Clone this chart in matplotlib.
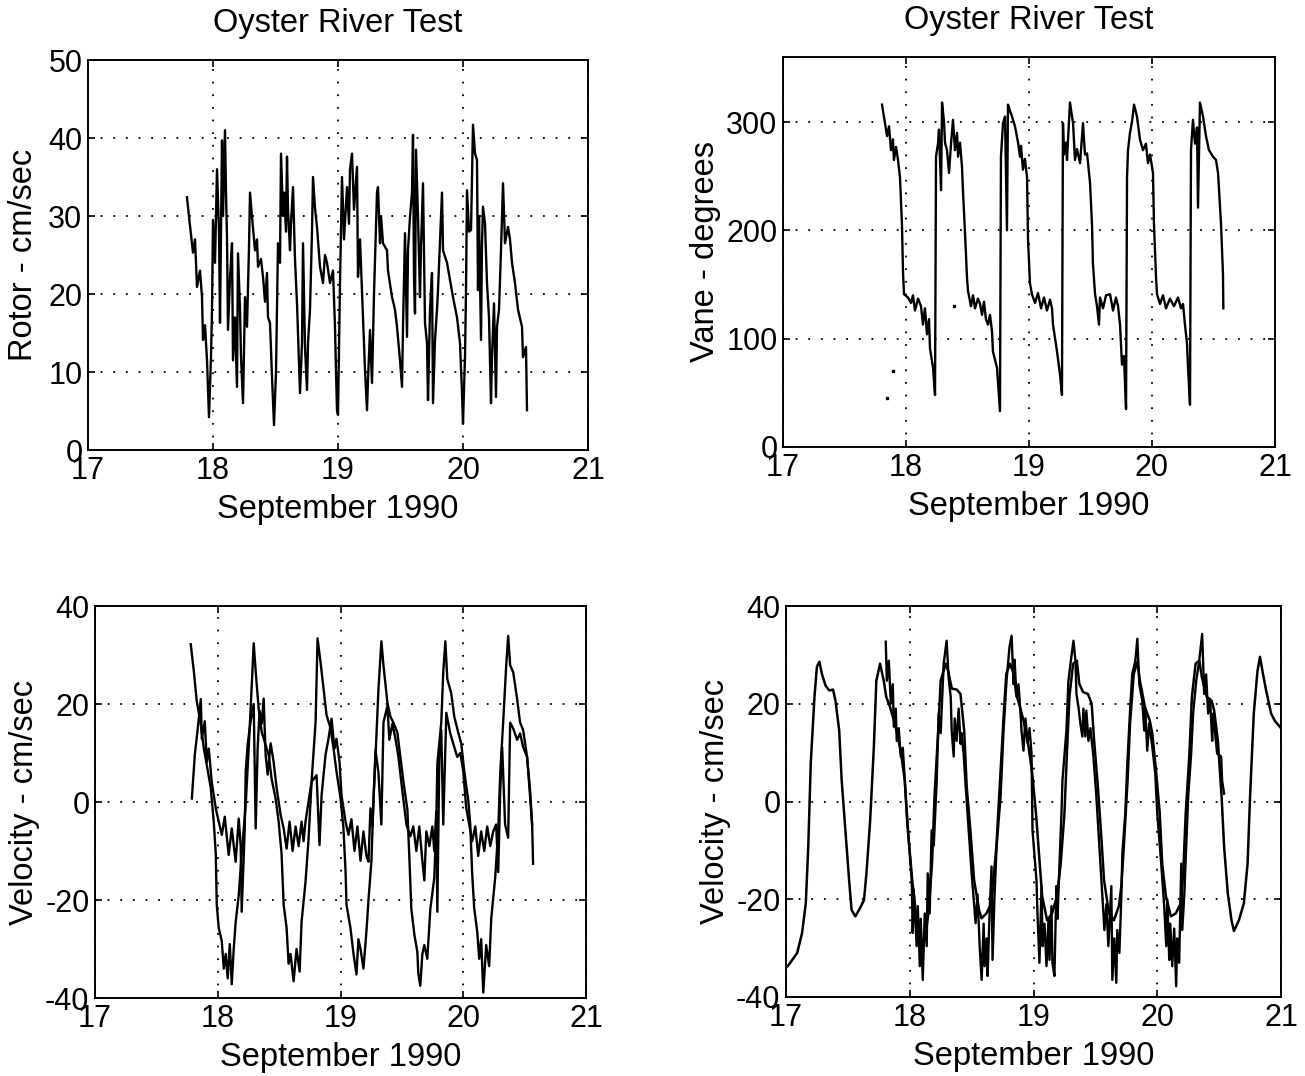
import matplotlib
matplotlib.use("Agg")
import matplotlib.pyplot as plt

plt.rcParams['font.family'] = ['Liberation Sans', 'DejaVu Sans']
plt.rcParams['axes.unicode_minus'] = False

# ---------------- data ----------------
x_ticks = [17, 18, 19, 20, 21]
title_text = "Oyster River Test"
xlabel_text = "September 1990"

# Top-left: rotor speed (cm/sec)
rotor_t = [17.792, 17.808, 17.84, 17.856, 17.872, 17.896, 17.912, 17.92, 17.936, 17.952, 17.968, 17.984,
           17.992, 18.0, 18.016, 18.032, 18.048, 18.056, 18.072, 18.08, 18.096, 18.104, 18.112, 18.12,
           18.136, 18.152, 18.16, 18.176, 18.192, 18.2, 18.216, 18.224, 18.24, 18.256, 18.272, 18.288,
           18.296, 18.312, 18.336, 18.352, 18.36, 18.384, 18.4, 18.416, 18.432, 18.44, 18.456, 18.472,
           18.488, 18.504, 18.512, 18.52, 18.536, 18.544, 18.56, 18.568, 18.584, 18.592, 18.6, 18.616,
           18.624, 18.64, 18.656, 18.672, 18.68, 18.696, 18.712, 18.72, 18.736, 18.752, 18.76, 18.776,
           18.792, 18.8, 18.816, 18.832, 18.856, 18.88, 18.896, 18.912, 18.936, 18.96, 18.976, 18.984,
           18.992, 19.0, 19.016, 19.032, 19.048, 19.072, 19.088, 19.096, 19.112, 19.128, 19.152, 19.16,
           19.176, 19.2, 19.216, 19.232, 19.24, 19.256, 19.272, 19.288, 19.312, 19.32, 19.336, 19.344,
           19.36, 19.392, 19.4, 19.432, 19.456, 19.472, 19.496, 19.512, 19.52, 19.536, 19.552, 19.56,
           19.576, 19.592, 19.6, 19.608, 19.616, 19.624, 19.64, 19.656, 19.664, 19.68, 19.696, 19.712,
           19.72, 19.736, 19.752, 19.76, 19.776, 19.792, 19.8, 19.832, 19.84, 19.872, 19.896, 19.92,
           19.952, 19.976, 19.992, 20.0, 20.016, 20.024, 20.032, 20.048, 20.064, 20.08, 20.096, 20.112,
           20.12, 20.128, 20.144, 20.152, 20.16, 20.176, 20.192, 20.208, 20.224, 20.232, 20.248, 20.264,
           20.272, 20.288, 20.304, 20.32, 20.336, 20.36, 20.376, 20.392, 20.416, 20.44, 20.472, 20.48,
           20.504, 20.512]
rotor_v = [32.4, 29.9, 25.3, 27.0, 20.9, 23.0, 19.6, 14.1, 16.0, 11.5, 4.2, 12.0,
           18.0, 29.5, 24.0, 36.0, 28.0, 16.3, 39.7, 30.0, 41.0, 33.0, 27.3, 15.4,
           22.0, 26.5, 11.5, 17.0, 8.1, 25.2, 18.0, 12.0, 6.0, 19.6, 15.8, 26.0,
           33.0, 29.9, 25.6, 27.0, 23.5, 24.5, 22.2, 19.0, 22.7, 17.0, 16.3, 9.4,
           3.2, 10.0, 18.0, 26.5, 24.0, 38.0, 30.0, 33.0, 28.0, 37.6, 30.8, 25.6,
           29.0, 33.7, 24.4, 18.8, 15.0, 7.3, 13.7, 26.5, 13.2, 7.7, 13.7, 18.0,
           28.0, 35.0, 31.0, 28.6, 23.5, 21.4, 25.0, 24.0, 21.4, 23.0, 15.8, 10.0,
           5.1, 4.5, 21.4, 35.0, 27.0, 33.7, 29.0, 36.0, 38.0, 30.8, 36.3, 22.2,
           27.0, 17.0, 10.3, 5.1, 9.0, 15.4, 8.6, 20.0, 33.0, 33.7, 26.5, 30.0,
           26.5, 25.6, 23.0, 19.6, 18.0, 15.8, 11.5, 8.1, 15.8, 27.8, 14.5, 25.6,
           29.9, 33.0, 40.4, 22.2, 17.5, 38.5, 29.9, 19.6, 26.0, 34.2, 16.3, 13.7,
           6.4, 18.0, 22.7, 6.0, 14.1, 18.0, 20.5, 33.0, 25.6, 24.0, 21.8, 19.6,
           17.0, 13.7, 7.3, 3.4, 12.0, 20.5, 33.3, 28.0, 28.2, 41.7, 38.0, 37.2,
           20.5, 30.0, 14.1, 26.5, 31.2, 29.0, 21.4, 17.0, 6.0, 12.0, 18.8, 6.8,
           15.8, 18.0, 25.6, 34.2, 26.5, 28.6, 27.0, 24.0, 21.4, 18.0, 15.8, 11.9,
           13.2, 5.1]
rotor_yticks = [0, 10, 20, 30, 40, 50]

# Top-right: vane direction (degrees)
vane_t = [17.805, 17.846, 17.862, 17.878, 17.894, 17.902, 17.919, 17.935, 17.951, 17.967, 17.976, 17.984,
          18.016, 18.041, 18.057, 18.073, 18.098, 18.122, 18.138, 18.154, 18.171, 18.187, 18.195, 18.22,
          18.236, 18.244, 18.26, 18.268, 18.285, 18.293, 18.309, 18.317, 18.333, 18.35, 18.366, 18.382,
          18.398, 18.415, 18.423, 18.439, 18.455, 18.463, 18.48, 18.496, 18.504, 18.528, 18.545, 18.561,
          18.585, 18.602, 18.618, 18.634, 18.65, 18.667, 18.683, 18.699, 18.707, 18.74, 18.748, 18.764,
          18.772, 18.789, 18.805, 18.821, 18.829, 18.846, 18.862, 18.886, 18.911, 18.927, 18.935, 18.951,
          18.967, 18.984, 18.992, 19.008, 19.024, 19.049, 19.073, 19.098, 19.122, 19.146, 19.171, 19.187,
          19.195, 19.228, 19.252, 19.268, 19.276, 19.285, 19.301, 19.309, 19.325, 19.333, 19.358, 19.374,
          19.39, 19.415, 19.439, 19.455, 19.472, 19.496, 19.512, 19.52, 19.537, 19.553, 19.569, 19.577,
          19.602, 19.626, 19.659, 19.683, 19.707, 19.724, 19.74, 19.756, 19.772, 19.789, 19.797, 19.805,
          19.821, 19.837, 19.854, 19.878, 19.902, 19.927, 19.951, 19.967, 19.984, 20.008, 20.016, 20.033,
          20.041, 20.065, 20.089, 20.114, 20.146, 20.179, 20.211, 20.236, 20.252, 20.268, 20.285, 20.293,
          20.309, 20.317, 20.333, 20.35, 20.366, 20.374, 20.39, 20.415, 20.439, 20.463, 20.496, 20.52,
          20.537, 20.545, 20.561, 20.577, 20.58]
vane_v = [316, 287, 296, 274, 284, 265, 277, 265, 249, 206, 160, 141,
          138, 133, 140, 126, 137, 130, 113, 128, 104, 118, 91, 73,
          48, 268, 280, 293, 237, 318, 300, 281, 274, 253, 280, 302,
          274, 290, 268, 281, 259, 237, 197, 156, 144, 130, 140, 128,
          137, 132, 122, 134, 118, 113, 122, 107, 88, 73, 60, 33,
          268, 299, 305, 200, 316, 310, 305, 296, 281, 268, 278, 256,
          266, 249, 191, 151, 141, 133, 142, 128, 138, 126, 136, 128,
          113, 88, 67, 48, 299, 270, 281, 265, 300, 318, 299, 265,
          275, 262, 299, 270, 271, 244, 206, 169, 141, 130, 113, 138,
          128, 140, 141, 126, 138, 130, 113, 76, 84, 35, 249, 274,
          290, 300, 316, 305, 284, 274, 280, 262, 270, 253, 206, 156,
          141, 132, 140, 128, 137, 130, 138, 128, 132, 113, 95, 73,
          39, 274, 302, 280, 295, 221, 318, 305, 287, 274, 268, 265,
          253, 237, 206, 160, 128]
vane_outlier_t = [17.846, 17.894, 18.39]
vane_outlier_v = [45, 70, 130]
vane_yticks = [0, 100, 200, 300]

# Bottom-left: two velocity components (cm/sec)
vel_a_t = [17.78, 17.805, 17.829, 17.862, 17.886, 17.911, 17.943, 17.967, 17.984, 17.992, 18.008, 18.033,
           18.049, 18.065, 18.081, 18.098, 18.114, 18.13, 18.146, 18.171, 18.195, 18.228, 18.252, 18.276,
           18.293, 18.309, 18.333, 18.358, 18.39, 18.415, 18.439, 18.472, 18.496, 18.52, 18.537, 18.561,
           18.577, 18.593, 18.618, 18.642, 18.667, 18.683, 18.715, 18.74, 18.764, 18.797, 18.813, 18.837,
           18.862, 18.886, 18.919, 18.943, 18.967, 19.0, 19.024, 19.041, 19.049, 19.081, 19.106, 19.13,
           19.146, 19.163, 19.187, 19.211, 19.228, 19.252, 19.268, 19.285, 19.309, 19.333, 19.35, 19.382,
           19.407, 19.431, 19.463, 19.488, 19.512, 19.545, 19.561, 19.577, 19.602, 19.626, 19.634, 19.65,
           19.667, 19.683, 19.707, 19.732, 19.764, 19.78, 19.789, 19.821, 19.837, 19.854, 19.87, 19.902,
           19.927, 19.959, 19.984, 20.008, 20.041, 20.057, 20.073, 20.089, 20.114, 20.13, 20.146, 20.163,
           20.187, 20.211, 20.228, 20.26, 20.285, 20.301, 20.325, 20.35, 20.366, 20.382, 20.407, 20.439,
           20.463, 20.488, 20.52, 20.537, 20.561, 20.569]
vel_a_v = [32.2, 26.7, 20.6, 15.9, 11.0, 7.5, 2.9, -3.9, -10.6, -21.0, -25.7, -28.4,
           -34.0, -31.0, -36.0, -29.0, -37.2, -30.0, -24.5, -19.0, -10.6, -0.5, 11.0, 23.3,
           32.4, 26.7, 19.1, 14.3, 11.6, 9.6, 4.7, 0.6, -4.0, -10.6, -21.0, -25.7,
           -33.0, -31.0, -36.6, -30.0, -34.6, -24.4, -16.3, -7.5, 4.1, 16.3, 33.4, 28.6,
           23.1, 17.8, 15.0, 11.0, 6.3, 0.8, -5.3, -14.1, -21.0, -25.7, -31.0, -35.2,
           -28.0, -30.0, -34.0, -26.5, -20.0, -12.0, 0.0, 9.2, 22.9, 32.8, 27.9, 20.3,
           17.4, 16.2, 14.2, 9.2, 4.3, -1.6, -11.4, -21.8, -27.1, -30.6, -35.0, -37.5,
           -31.0, -29.2, -32.0, -21.8, -15.5, -4.6, 7.8, 16.2, 26.5, 32.8, 25.1, 22.2,
           17.4, 14.2, 11.9, 6.3, 0.3, -4.6, -14.7, -21.6, -26.5, -32.0, -28.0, -38.9,
           -29.2, -33.5, -23.8, -15.5, -5.9, 5.8, 16.2, 27.9, 33.9, 27.9, 26.5, 21.0,
           16.2, 14.7, 9.2, 3.7, -4.6, -12.6]
vel_b_t = [17.789, 17.813, 17.837, 17.862, 17.87, 17.894, 17.911, 17.927, 17.951, 17.984, 18.008, 18.033,
           18.057, 18.089, 18.114, 18.146, 18.171, 18.187, 18.195, 18.22, 18.228, 18.244, 18.268, 18.293,
           18.309, 18.325, 18.341, 18.358, 18.374, 18.39, 18.407, 18.431, 18.455, 18.48, 18.512, 18.537,
           18.561, 18.585, 18.61, 18.634, 18.659, 18.683, 18.699, 18.715, 18.764, 18.805, 18.829, 18.846,
           18.878, 18.902, 18.927, 18.951, 18.967, 18.992, 19.008, 19.041, 19.065, 19.089, 19.114, 19.138,
           19.163, 19.187, 19.211, 19.228, 19.244, 19.26, 19.285, 19.309, 19.333, 19.35, 19.382, 19.398,
           19.423, 19.447, 19.472, 19.504, 19.537, 19.569, 19.593, 19.618, 19.642, 19.667, 19.683, 19.699,
           19.724, 19.748, 19.764, 19.78, 19.789, 19.805, 19.821, 19.837, 19.862, 19.894, 19.927, 19.951,
           19.976, 20.0, 20.024, 20.049, 20.073, 20.098, 20.122, 20.146, 20.171, 20.195, 20.22, 20.244,
           20.268, 20.285, 20.301, 20.317, 20.341, 20.366, 20.382, 20.407, 20.439, 20.463, 20.488, 20.52,
           20.545, 20.561]
vel_b_v = [0.7, 9.6, 15.0, 21.0, 12.9, 16.5, 8.2, 10.9, 4.1, -1.3, -4.0, -6.7,
           -3.0, -10.8, -5.4, -12.2, -3.4, -9.0, -22.4, -5.4, 6.3, 11.8, 16.5, 20.0,
           -5.4, 11.0, 18.6, 16.0, 21.1, 9.6, 5.6, 12.0, 8.2, 2.8, -2.6, -5.4,
           -9.5, -4.0, -10.0, -5.0, -9.0, -4.0, -8.0, -4.0, 4.1, 5.5, -8.8, 1.4,
           9.6, 12.9, 17.0, 10.9, 12.9, 8.2, 1.4, -4.0, -6.7, -3.5, -10.0, -5.0,
           -12.0, -6.0, -11.0, -12.2, -1.3, -5.0, 10.6, 6.0, -4.6, 16.2, 19.6, 12.7,
           16.0, 13.0, 9.2, 2.2, -4.6, -7.0, -5.0, -10.0, -5.0, -12.0, -16.0, -6.0,
           -9.0, -5.0, -10.0, -1.9, -22.4, 9.2, 14.7, -4.6, 18.2, 14.0, 11.2, 9.2,
           10.0, 6.3, -1.2, -4.6, -8.0, -5.0, -11.0, -6.0, -10.0, -5.0, -9.0, -6.0,
           -4.6, -14.3, 2.2, 11.2, -4.6, -7.3, 16.2, 15.0, 12.7, 14.0, 11.2, 9.2,
           2.2, -4.6]
vel_yticks = [-40, -20, 0, 20, 40]

# Bottom-right: model (smooth) and measured (noisy) velocity (cm/sec)
model_t = [17.0, 17.02, 17.09, 17.13, 17.16, 17.18, 17.2, 17.23, 17.25, 17.27, 17.29, 17.32,
           17.35, 17.38, 17.4, 17.43, 17.45, 17.48, 17.51, 17.53, 17.56, 17.59, 17.63, 17.65,
           17.68, 17.71, 17.73, 17.76, 17.79, 17.81, 17.84, 17.88, 17.91, 17.93, 17.96, 17.98,
           18.02, 18.05, 18.07, 18.1, 18.13, 18.15, 18.18, 18.2, 18.23, 18.25, 18.29, 18.31,
           18.34, 18.38, 18.41, 18.44, 18.46, 18.49, 18.52, 18.56, 18.58, 18.62, 18.66, 18.7,
           18.73, 18.76, 18.78, 18.81, 18.84, 18.86, 18.89, 18.92, 18.96, 18.99, 19.02, 19.05,
           19.07, 19.11, 19.15, 19.19, 19.22, 19.25, 19.27, 19.29, 19.32, 19.35, 19.37, 19.4,
           19.44, 19.47, 19.49, 19.52, 19.55, 19.57, 19.61, 19.65, 19.69, 19.71, 19.73, 19.76,
           19.78, 19.81, 19.84, 19.86, 19.9, 19.94, 19.96, 19.99, 20.02, 20.04, 20.07, 20.11,
           20.15, 20.19, 20.21, 20.23, 20.26, 20.28, 20.31, 20.34, 20.36, 20.4, 20.44, 20.46,
           20.49, 20.52, 20.54, 20.57, 20.6, 20.62, 20.66, 20.7, 20.73, 20.75, 20.78, 20.81,
           20.83, 20.85, 20.88, 20.92, 20.95, 21.0]
model_v = [-34.0, -33.5, -31.0, -26.9, -20.8, -9.2, 7.8, 21.4, 27.6, 28.6, 26.1, 23.7,
           22.7, 22.9, 20.6, 14.5, 4.3, -5.9, -16.1, -22.2, -23.5, -22.2, -20.2, -14.7,
           -3.9, 11.2, 24.7, 28.2, 24.7, 21.4, 19.4, 15.9, 12.4, 9.8, 4.3, -4.5,
           -16.1, -22.9, -26.9, -29.0, -26.9, -22.9, -12.7, 1.0, 14.5, 24.7, 28.2, 26.7,
           23.1, 22.9, 22.0, 14.5, 3.1, -5.9, -16.1, -22.2, -23.9, -22.9, -20.8, -9.2,
           4.3, 18.0, 26.1, 28.2, 26.1, 22.0, 19.4, 16.5, 11.2, 5.7, -2.4, -12.7,
           -19.4, -24.3, -22.9, -19.4, -12.7, -2.4, 9.8, 21.4, 28.2, 28.8, 24.1, 22.4,
           22.0, 20.0, 12.4, 3.1, -8.0, -16.1, -22.9, -24.3, -21.4, -17.3, -9.2, 4.3,
           15.9, 26.1, 28.6, 24.7, 19.4, 16.5, 13.9, 6.3, -2.4, -12.7, -19.4, -23.5,
           -22.9, -20.8, -14.7, -2.4, 9.8, 21.4, 28.2, 28.8, 25.5, 21.4, 20.6, 18.6,
           12.4, 1.0, -9.2, -18.8, -24.3, -26.5, -24.3, -20.8, -12.7, 1.0, 18.0, 26.7,
           29.6, 26.7, 22.7, 18.0, 16.5, 15.0]
meas_t = [17.806, 17.815, 17.831, 17.847, 17.863, 17.871, 17.887, 17.895, 17.911, 17.927, 17.944, 17.968,
          17.992, 18.016, 18.024, 18.032, 18.056, 18.065, 18.081, 18.089, 18.105, 18.121, 18.137, 18.145,
          18.161, 18.177, 18.194, 18.218, 18.234, 18.25, 18.274, 18.298, 18.315, 18.331, 18.339, 18.355,
          18.363, 18.379, 18.395, 18.411, 18.419, 18.435, 18.452, 18.476, 18.5, 18.532, 18.548, 18.565,
          18.581, 18.597, 18.605, 18.621, 18.629, 18.645, 18.661, 18.669, 18.685, 18.702, 18.734, 18.758,
          18.782, 18.806, 18.823, 18.839, 18.847, 18.863, 18.879, 18.895, 18.903, 18.919, 18.935, 18.952,
          18.968, 18.984, 18.992, 19.024, 19.032, 19.048, 19.065, 19.073, 19.089, 19.105, 19.121, 19.129,
          19.145, 19.153, 19.169, 19.185, 19.194, 19.21, 19.226, 19.234, 19.266, 19.282, 19.298, 19.323,
          19.339, 19.347, 19.363, 19.379, 19.395, 19.403, 19.419, 19.427, 19.444, 19.46, 19.484, 19.508,
          19.532, 19.556, 19.573, 19.589, 19.605, 19.629, 19.637, 19.653, 19.669, 19.677, 19.694, 19.71,
          19.718, 19.742, 19.758, 19.782, 19.798, 19.823, 19.839, 19.855, 19.879, 19.895, 19.903, 19.919,
          19.935, 19.96, 19.984, 20.0, 20.032, 20.056, 20.073, 20.081, 20.097, 20.105, 20.121, 20.137,
          20.153, 20.161, 20.177, 20.194, 20.202, 20.218, 20.234, 20.25, 20.274, 20.29, 20.315, 20.339,
          20.363, 20.379, 20.395, 20.411, 20.427, 20.444, 20.452, 20.468, 20.484, 20.516, 20.524, 20.54]
meas_v = [32.7, 24.7, 28.8, 20.0, 24.0, 15.3, 19.0, 12.4, 15.0, 9.2, 11.0, 1.0,
          -8.0, -16.1, -26.9, -18.0, -29.6, -21.4, -33.7, -24.0, -36.5, -22.9, -29.6, -14.7,
          -22.9, -5.9, -9.0, 4.3, 18.0, 14.0, 28.2, 32.9, 25.0, 21.4, 14.5, 9.2,
          17.0, 12.4, 19.0, 11.8, 14.0, 9.8, 3.1, -5.9, -14.7, -24.9, -19.0, -29.6,
          -36.5, -25.0, -33.7, -28.0, -35.7, -22.9, -13.3, -32.4, -19.4, -9.2, 1.0, 14.5,
          24.7, 31.6, 33.9, 24.0, 29.0, 21.4, 24.0, 18.0, 14.5, 10.4, 17.0, 12.0,
          15.0, 9.8, -5.9, -16.1, -22.9, -33.0, -17.3, -29.6, -25.0, -33.7, -24.0, -32.4,
          -21.4, -33.0, -35.7, -17.3, -24.0, -12.7, -2.4, 4.3, 14.5, 24.7, 28.0, 32.9,
          28.8, 22.0, 19.4, 15.9, 13.3, 19.0, 13.3, 18.6, 12.4, 15.0, 9.2, 1.0,
          -9.2, -19.4, -26.3, -21.0, -29.6, -17.3, -36.5, -28.0, -37.1, -26.3, -31.0, -19.4,
          -10.6, -2.4, 7.8, 19.4, 26.1, 28.8, 33.3, 24.0, 20.6, 14.5, 19.0, 10.4,
          16.0, 11.2, 5.7, -2.4, -12.7, -21.4, -29.6, -20.0, -32.4, -25.0, -33.7, -26.0,
          -37.8, -28.0, -33.0, -12.7, -26.3, -19.4, -9.2, 1.0, 9.8, 18.0, 24.7, 28.8,
          34.3, 22.0, 26.0, 18.0, 21.0, 12.4, 18.0, 14.0, 9.8, 9.2, 4.3, 1.6]

# ---------------- figure ----------------
W, H = 1305, 1076
fig = plt.figure(figsize=(W / 100, H / 100), dpi=100)
FS_TICK = 22
FS_LABEL = 23.5


def make_axes(px_left, px_right, px_top, px_bottom):
    return fig.add_axes([px_left / W, 1 - px_bottom / H,
                         (px_right - px_left) / W, (px_bottom - px_top) / H])


def style(ax, yticks, ylim, ylabel, title=None, ylabelpad=6):
    ax.set_xlim(17, 21)
    ax.set_ylim(*ylim)
    ax.set_xticks(x_ticks)
    ax.set_yticks(yticks)
    ax.tick_params(direction='in', length=5, width=1.2, top=True, right=True,
                   labelsize=FS_TICK, pad=4)
    for s in ax.spines.values():
        s.set_linewidth(1.4)
        s.set_color('black')
    ax.grid(True, color='black', linestyle=(0, (1, 6)), linewidth=1.3)
    ax.set_axisbelow(True)
    ax.set_xlabel(xlabel_text, fontsize=FS_LABEL, labelpad=6)
    ax.set_ylabel(ylabel, fontsize=FS_LABEL, labelpad=ylabelpad)
    if title:
        ax.set_title(title, fontsize=FS_LABEL, pad=20)


lw = 1.7
ax1 = make_axes(88, 588, 60, 450)
ax1.plot(rotor_t, rotor_v, color='black', lw=lw)
style(ax1, rotor_yticks, (0, 50), "Rotor - cm/sec", title_text, ylabelpad=7)

ax2 = make_axes(783, 1275, 57, 447)
ax2.plot(vane_t, vane_v, color='black', lw=lw)
ax2.plot(vane_outlier_t, vane_outlier_v, linestyle='none', marker='s', ms=2, color='black')
style(ax2, vane_yticks, (0, 360), "Vane - degrees", title_text, ylabelpad=4)

ax3 = make_axes(95, 586, 606, 998)
ax3.plot(vel_a_t, vel_a_v, color='black', lw=lw)
ax3.plot(vel_b_t, vel_b_v, color='black', lw=lw)
style(ax3, vel_yticks, (-40, 40), "Velocity - cm/sec", ylabelpad=4)

ax4 = make_axes(786, 1281, 606, 997)
ax4.plot(model_t, model_v, color='black', lw=1.8)
ax4.plot(meas_t, meas_v, color='black', lw=lw)
style(ax4, vel_yticks, (-40, 40), "Velocity - cm/sec", ylabelpad=4)

fig.savefig("out.png", dpi=100, facecolor='white')
